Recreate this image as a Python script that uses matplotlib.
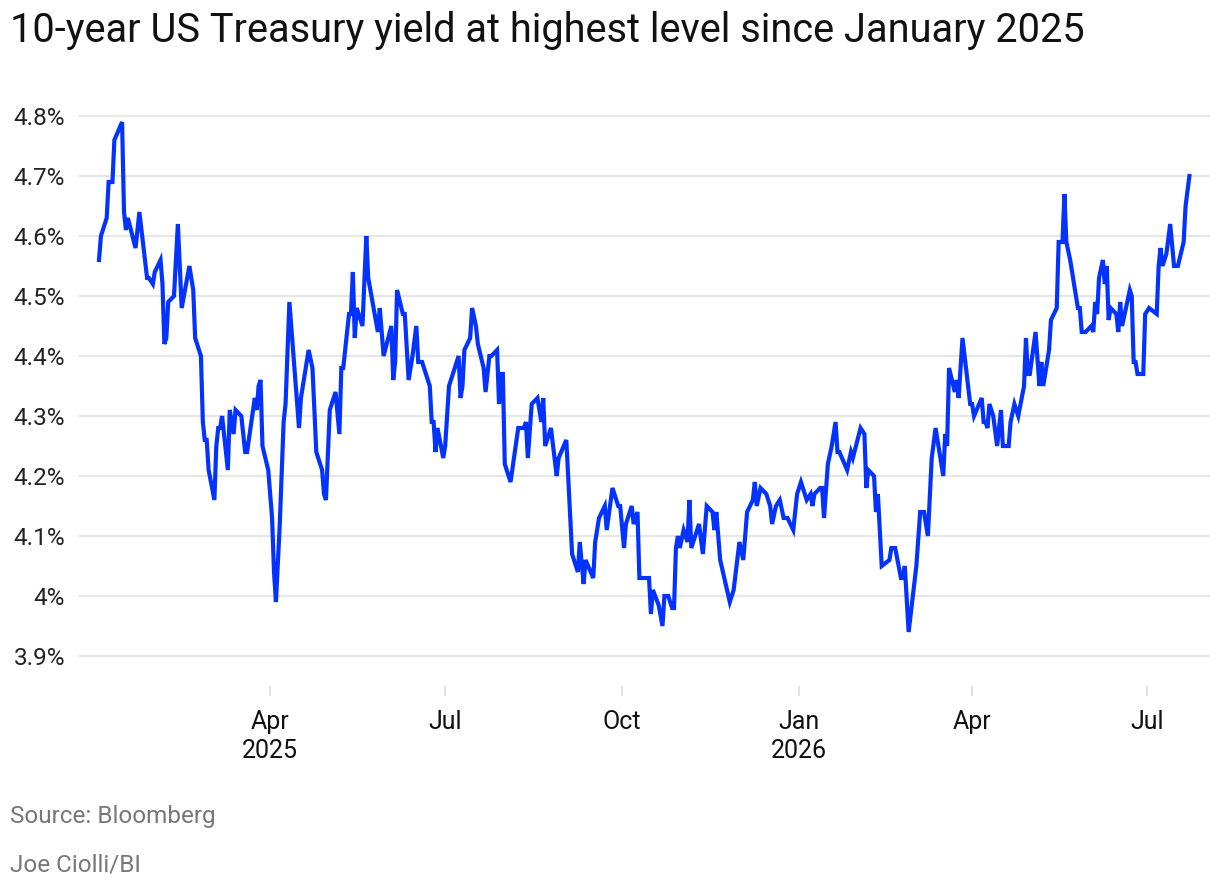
import pandas as pd
import matplotlib.pyplot as plt
import matplotlib.dates as mdates
from matplotlib.ticker import FixedLocator

# 10-year yield (%); day = days since 2025-01-01
days_jan_mar_2025 = [1, 2, 5, 6, 8, 9, 13, 14, 15, 16, 20, 22, 26, 27, 29, 30, 33, 34, 35, 36,
                     37, 40, 42, 44, 48, 50, 51, 54, 55, 56, 57, 58, 61, 62, 63, 64, 65, 68, 69, 71,
                     72, 75, 77, 78, 82, 83, 84, 85, 86, 89, 91, 92, 93]
yield_jan_mar_2025 = [4.56, 4.60, 4.63, 4.69, 4.69, 4.76, 4.79, 4.64, 4.61, 4.63,
                      4.58, 4.64, 4.53, 4.53, 4.52, 4.54, 4.56, 4.52, 4.42, 4.43,
                      4.49, 4.50, 4.62, 4.48, 4.55, 4.51, 4.43, 4.40, 4.29, 4.26,
                      4.26, 4.21, 4.16, 4.25, 4.28, 4.28, 4.30, 4.21, 4.31, 4.27,
                      4.31, 4.30, 4.24, 4.24, 4.33, 4.31, 4.35, 4.36, 4.25, 4.21,
                      4.13, 4.04, 3.99]

days_apr_jun_2025 = [95, 97, 98, 100, 105, 106, 110, 112, 114, 117, 118, 119, 121, 124, 126, 127,
                     128, 131, 132, 133, 134, 135, 138, 140, 141, 146, 147, 149, 153, 154, 155, 156,
                     159, 160, 162, 164, 166, 167, 169, 173, 174, 175, 176, 177, 180, 181, 183, 186]
yield_apr_jun_2025 = [4.12, 4.29, 4.32, 4.49, 4.28, 4.33, 4.41, 4.38, 4.24, 4.21,
                      4.17, 4.16, 4.31, 4.34, 4.27, 4.38, 4.38, 4.47, 4.47, 4.54,
                      4.43, 4.48, 4.45, 4.60, 4.53, 4.44, 4.48, 4.40, 4.45, 4.36,
                      4.39, 4.51, 4.47, 4.47, 4.36, 4.40, 4.45, 4.39, 4.39, 4.35,
                      4.29, 4.29, 4.24, 4.28, 4.23, 4.25, 4.35, 4.38]

days_jul_sep_2025 = [188, 189, 190, 191, 194, 195, 197, 198, 201, 202, 204, 205, 208, 209, 210,
                     211, 212, 215, 219, 222, 223, 224, 226, 229, 231, 232, 233, 236, 239, 240,
                     244, 247, 250, 251, 253, 254, 258, 259, 261, 264, 265, 268, 271, 272]
yield_jul_sep_2025 = [4.40, 4.33, 4.35, 4.41, 4.43, 4.48, 4.45, 4.42, 4.38, 4.34,
                      4.40, 4.40, 4.41, 4.32, 4.37, 4.37, 4.22, 4.19, 4.28, 4.28,
                      4.29, 4.23, 4.32, 4.33, 4.29, 4.33, 4.25, 4.28, 4.20, 4.23,
                      4.26, 4.07, 4.04, 4.09, 4.02, 4.06, 4.03, 4.09, 4.13, 4.15,
                      4.11, 4.18, 4.15, 4.15]

days_oct_dec_2025 = [274, 275, 278, 279, 281, 282, 287, 288, 289, 292, 294, 295, 297, 299, 300,
                     301, 302, 303, 305, 307, 308, 309, 313, 315, 317, 320, 321, 322, 324, 329,
                     331, 334, 336, 338, 341, 342, 343, 345, 348, 350, 351, 353, 355, 357, 359, 362]
yield_oct_dec_2025 = [4.08, 4.12, 4.15, 4.12, 4.14, 4.03, 4.03, 3.97, 4.01, 3.985,
                      3.95, 4.00, 4.00, 3.98, 3.98, 4.08, 4.10, 4.08, 4.11, 4.09,
                      4.16, 4.08, 4.12, 4.07, 4.15, 4.14, 4.11, 4.14, 4.06, 3.99,
                      4.01, 4.09, 4.06, 4.14, 4.16, 4.19, 4.15, 4.18, 4.17, 4.15,
                      4.12, 4.15, 4.16, 4.13, 4.13, 4.11]

days_jan_mar_2026 = [364, 366, 369, 371, 372, 373, 376, 377, 378, 380, 382, 384, 385, 386, 390,
                     392, 393, 397, 399, 400, 401, 404, 405, 406, 408, 412, 413, 415, 418, 419,
                     420, 422, 426, 428, 430, 432, 434, 436, 440, 441, 442, 443, 446, 447, 448,
                     450, 454]
yield_jan_mar_2026 = [4.17, 4.19, 4.16, 4.17, 4.15, 4.17, 4.18, 4.18, 4.13, 4.22,
                      4.25, 4.29, 4.24, 4.24, 4.21, 4.24, 4.23, 4.28, 4.27, 4.18,
                      4.21, 4.20, 4.14, 4.17, 4.05, 4.06, 4.08, 4.08, 4.03, 4.03,
                      4.05, 3.94, 4.05, 4.14, 4.14, 4.10, 4.23, 4.28, 4.20, 4.27,
                      4.25, 4.38, 4.34, 4.36, 4.33, 4.43, 4.32]

days_apr_jul_2026 = [455, 456, 460, 461, 462, 463, 464, 466, 468, 470, 471, 474, 475, 477, 479,
                     482, 483, 484, 485, 488, 490, 491, 492, 495, 496, 499, 500, 502, 503, 504,
                     506, 510, 511, 512, 514, 517, 518, 519, 520, 521, 523, 524, 525, 526, 527,
                     530, 531, 532, 533, 537, 538, 539, 540, 541, 544, 545, 547, 551, 552, 553,
                     554, 556, 558, 560, 562, 565, 566, 568]
yield_apr_jul_2026 = [4.32, 4.30, 4.33, 4.29, 4.29, 4.28, 4.32, 4.30, 4.25, 4.31,
                      4.25, 4.25, 4.29, 4.32, 4.30, 4.35, 4.43, 4.37, 4.37, 4.44,
                      4.35, 4.39, 4.35, 4.41, 4.46, 4.48, 4.59, 4.59, 4.67, 4.59,
                      4.56, 4.48, 4.48, 4.44, 4.44, 4.45, 4.44, 4.49, 4.47, 4.53,
                      4.56, 4.52, 4.55, 4.46, 4.48, 4.47, 4.44, 4.49, 4.45, 4.51,
                      4.50, 4.39, 4.39, 4.37, 4.37, 4.47, 4.48, 4.47, 4.55, 4.58,
                      4.55, 4.57, 4.62, 4.55, 4.55, 4.59, 4.65, 4.70]

tick_dates = ['2025-04-01', '2025-07-01', '2025-10-01', '2026-01-01', '2026-04-01', '2026-07-01']
tick_labels = ['Apr\n2025', 'Jul', 'Oct', 'Jan\n2026', 'Apr', 'Jul']
y_ticks = [3.9, 4.0, 4.1, 4.2, 4.3, 4.4, 4.5, 4.6, 4.7, 4.8]
y_tick_labels = ['3.9%', '4%', '4.1%', '4.2%', '4.3%', '4.4%', '4.5%', '4.6%', '4.7%', '4.8%']

TITLE = '10-year US Treasury yield at highest level since January 2025'
SOURCE = 'Source: Bloomberg'
CREDIT = 'Joe Ciolli/BI'

BLUE = '#0433ff'
GRID = '#e6e6e6'


def main():
    days = (days_jan_mar_2025 + days_apr_jun_2025 + days_jul_sep_2025
            + days_oct_dec_2025 + days_jan_mar_2026 + days_apr_jul_2026)
    values = (yield_jan_mar_2025 + yield_apr_jun_2025 + yield_jul_sep_2025
              + yield_oct_dec_2025 + yield_jan_mar_2026 + yield_apr_jul_2026)
    assert len(days) == len(values)
    dates = pd.Timestamp('2025-01-01') + pd.to_timedelta(days, unit='D')

    plt.rcParams['font.family'] = ['Roboto', 'DejaVu Sans']

    W, H = 1220, 890
    fig = plt.figure(figsize=(W / 100, H / 100), dpi=100)
    ax = fig.add_axes([79 / W, (H - 686) / H, (1210 - 79) / W, (686 - 100) / H])

    ax.plot(dates, values, color=BLUE, linewidth=3.0, solid_joinstyle='miter', zorder=3)

    x0 = pd.Timestamp('2025-01-01')
    ax.set_xlim(x0 - pd.Timedelta(days=9.4), x0 + pd.Timedelta(days=578.7))
    ax.set_ylim(3.85, 4.8 + 16 / 600)

    ax.xaxis.set_major_locator(FixedLocator(mdates.date2num(pd.to_datetime(tick_dates))))
    ax.set_xticklabels(tick_labels, fontsize=18, color='#111111', linespacing=1.3)
    ax.set_yticks(y_ticks)
    ax.set_yticklabels(y_tick_labels, fontsize=17.5, color='#222222')

    ax.tick_params(axis='x', length=7, width=1.2, color='#dddddd', pad=10)
    ax.tick_params(axis='y', length=0, pad=10)
    ax.grid(axis='y', color=GRID, linewidth=1.6)
    ax.set_axisbelow(True)
    for side in ['top', 'right', 'left', 'bottom']:
        ax.spines[side].set_visible(False)

    fig.text(10 / W, 1 - 31 / H, TITLE, fontsize=28.6, color='#111111', va='center', ha='left')
    fig.text(10 / W, 1 - 816 / H, SOURCE, fontsize=17.5, color='#777777', va='center', ha='left')
    fig.text(10 / W, 1 - 865 / H, CREDIT, fontsize=17.5, color='#777777', va='center', ha='left')

    fig.savefig('out.png', dpi=100, facecolor='white')


if __name__ == "__main__":
    main()
